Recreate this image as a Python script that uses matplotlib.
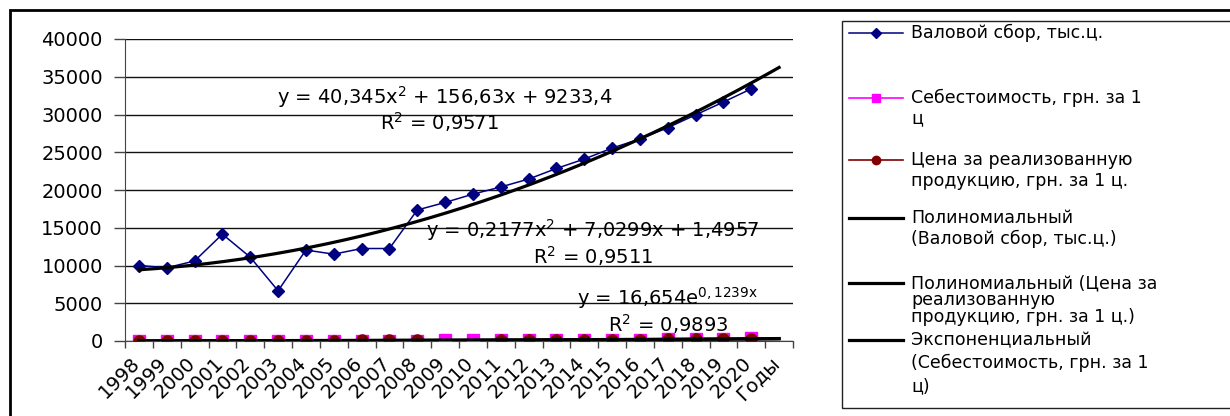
import numpy as np
import matplotlib
matplotlib.use('Agg')
import matplotlib.pyplot as plt
import matplotlib.transforms as mtransforms
from matplotlib.lines import Line2D
from matplotlib.patches import Rectangle

plt.rcParams['font.family'] = ['DejaVu Sans']
plt.rcParams['mathtext.default'] = 'regular'

# data
years = ['1998', '1999', '2000', '2001', '2002', '2003', '2004', '2005',
         '2006', '2007', '2008', '2009', '2010', '2011', '2012', '2013',
         '2014', '2015', '2016', '2017', '2018', '2019', '2020', 'Годы']
valovoy = [10000, 9700, 10600, 14150, 11100, 6650, 12050, 11500, 12250,
           12250, 17350, 18350, 19450, 20400, 21450, 22850, 24100, 25550,
           26750, 28250, 29950, 31650, 33400]
cost = [19, 21, 24, 27, 31, 35, 39, 45, 51, 57, 66, 73, 84, 95, 108, 121,
        139, 155, 176, 200, 226, 252, 380]
price = [12, 15, 22, 30, 40, 45, 55, 62, 72, 86, 95, np.nan, np.nan, 118,
         128, 142, 160, 175, 190, 210, 230, 250, 285]

# trendline coefficients as shown on the chart
poly_val = [40.345, 156.63, 9233.4]
poly_price = [0.2177, 7.0299, 1.4957]
exp_cost = [16.654, 0.1239]

W, H = 1230, 416
fig = plt.figure(figsize=(12.3, 4.16), dpi=100)
ax = fig.add_axes([125 / W, 1 - 341 / H, (793 - 125) / W, (341 - 39) / H])

n = len(years)
xpos = np.arange(n) + 0.5

ax.plot(xpos[:len(cost)], cost, color='#ff00ff', marker='s', ms=8, lw=1.2, zorder=3)
ax.plot(xpos[:len(price)], price, color='#800000', marker='o', ms=8, lw=1.2, zorder=4)
ax.plot(xpos[:len(valovoy)], valovoy, color='#000080', marker='D', ms=6, lw=1.1, zorder=5)

xt = np.linspace(1, n, 300)
ax.plot(xt - 0.5, np.polyval(poly_val, xt), color='black', lw=2.3, zorder=6)
ax.plot(xt - 0.5, np.polyval(poly_price, xt), color='black', lw=2.3, zorder=6)
ax.plot(xt - 0.5, exp_cost[0] * np.exp(exp_cost[1] * xt), color='black', lw=2.3, zorder=6)

ax.set_xlim(0, n)
ax.set_ylim(0, 40000)
ax.set_yticks(np.arange(0, 40001, 5000))
ax.yaxis.grid(True, color='#111111', lw=1.0)
ax.set_axisbelow(True)
ax.tick_params(axis='y', labelsize=14, length=8, width=1, color='#444444', pad=8)

ax.set_xticks(xpos)
ax.set_xticklabels(years, rotation=45, ha='right', rotation_mode='anchor', fontsize=14)
ax.set_xticks(np.arange(0, n + 1), minor=True)
ax.tick_params(axis='x', which='major', length=0, pad=9)
ax.tick_params(axis='x', which='minor', length=5, width=1, color='#444444')
shift = mtransforms.ScaledTranslation(-0.09, 0, fig.dpi_scale_trans)
for lbl in ax.get_xticklabels():
    lbl.set_transform(lbl.get_transform() + shift)

for s in ['top', 'right']:
    ax.spines[s].set_visible(False)
ax.spines['left'].set_color('#444444')
ax.spines['bottom'].set_color('#444444')

fs = 14
ax.text(11.5, 32300, 'y = 40,345x$^{2}$ + 156,63x + 9233,4', ha='center', va='center', fontsize=fs)
ax.text(11.3, 29000, 'R$^{2}$ = 0,9571', ha='center', va='center', fontsize=fs)
ax.text(16.8, 14700, 'y = 0,2177x$^{2}$ + 7,0299x + 1,4957', ha='center', va='center', fontsize=fs)
ax.text(16.8, 11260, 'R$^{2}$ = 0,9511', ha='center', va='center', fontsize=fs)
ax.text(19.5, 5700, 'y = 16,654e$^{0,1239x}$', ha='center', va='center', fontsize=fs)
ax.text(19.5, 2250, 'R$^{2}$ = 0,9893', ha='center', va='center', fontsize=fs)

# outer frame and legend box (pixel coords -> figure fraction)
def fx(px):
    return px / W

def fy(py):
    return 1 - py / H

fig.add_artist(Rectangle((fx(10), fy(430)), fx(1240) - fx(10), fy(10) - fy(430),
                         transform=fig.transFigure, fill=False, lw=2, ec='black'))
fig.add_artist(Rectangle((fx(842), fy(408)), fx(1240) - fx(842), fy(21) - fy(408),
                         transform=fig.transFigure, fill=False, lw=1, ec='#222222'))

legend_items = [
    ('#000080', 'D', 5, 1.1, 33, 20, ['Валовой сбор, тыс.ц.']),
    ('#ff00ff', 's', 6, 1.2, 98, 20, ['Себестоимость, грн. за 1', 'ц']),
    ('#800000', 'o', 6, 1.2, 160, 21, ['Цена за реализованную', 'продукцию, грн. за 1 ц.']),
    ('black', None, 0, 2.3, 218, 21, ['Полиномиальный', '(Валовой сбор, тыс.ц.)']),
    ('black', None, 0, 2.3, 283, 17, ['Полиномиальный (Цена за', 'реализованную', 'продукцию, грн. за 1 ц.)']),
    ('black', None, 0, 2.3, 340, 23, ['Экспоненциальный', '(Себестоимость, грн. за 1', 'ц)']),
]
for color, mk, ms, lw, y0, gap, lines in legend_items:
    fig.add_artist(Line2D([fx(849), fx(903)], [fy(y0), fy(y0)], color=color, lw=lw,
                          transform=fig.transFigure))
    if mk:
        fig.add_artist(Line2D([fx(876)], [fy(y0)], color=color, marker=mk, ms=ms,
                              transform=fig.transFigure))
    for k, t in enumerate(lines):
        fig.text(fx(911), fy(y0 + k * gap), t, ha='left', va='center', fontsize=12.5)

fig.savefig('out.png', dpi=100)
